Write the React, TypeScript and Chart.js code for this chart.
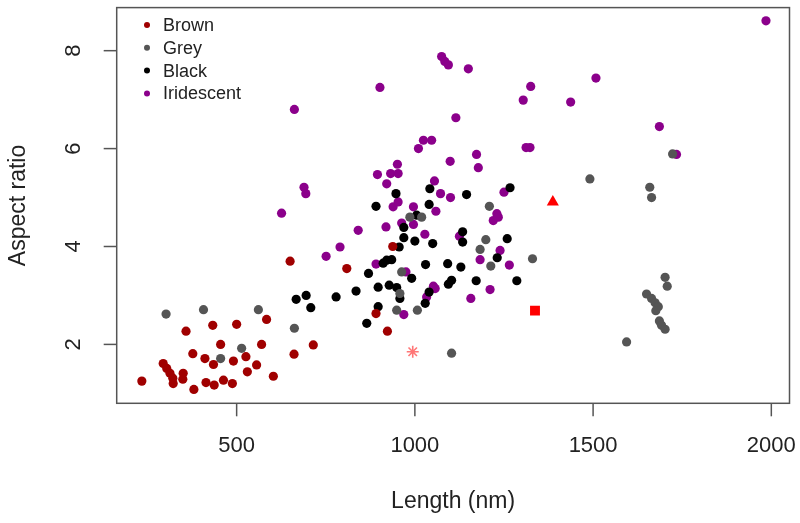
import React, { useEffect, useRef } from "react";
import { Chart, registerables } from "chart.js";

Chart.register(...registerables);

const seriesNames = ["Brown", "Grey", "Black", "Iridescent"];
const seriesColors = ["#a00000", "#555555", "#000000", "#8b008b"];

const brownX = [650, 358, 433, 500, 584, 455, 377, 411, 435, 491, 526, 556, 570, 530, 603, 661, 715, 294, 304, 313, 321, 322, 350, 349, 234, 380, 414, 437, 463, 488, 891, 938, 809, 923];
const brownY = [3.70, 2.27, 2.39, 2.41, 2.51, 2.00, 1.81, 1.71, 1.59, 1.66, 1.75, 1.58, 2.00, 1.44, 1.35, 1.80, 1.99, 1.61, 1.51, 1.41, 1.31, 1.20, 1.41, 1.29, 1.25, 1.08, 1.22, 1.17, 1.27, 1.20, 2.63, 4.00, 3.55, 2.27];

const greyX = [302, 407, 561, 662, 514, 455, 986, 1019, 963, 958, 949, 1007, 1103, 1209, 1199, 1183, 1213, 1330, 1491, 1659, 1664, 1723, 1702, 1708, 1650, 1664, 1674, 1683, 1676, 1686, 1692, 1702, 1594];
const greyY = [2.62, 2.71, 2.71, 2.33, 1.92, 1.71, 4.60, 4.60, 3.48, 3.04, 2.70, 2.70, 1.82, 4.82, 4.14, 3.94, 3.60, 3.75, 5.38, 5.21, 5.00, 5.89, 3.37, 3.19, 3.03, 2.94, 2.85, 2.77, 2.69, 2.48, 2.39, 2.31, 2.05];

const blackX = [667, 695, 708, 947, 1042, 1145, 891, 1040, 1267, 1005, 969, 1134, 969, 1000, 1050, 1134, 956, 1259, 1231, 921, 935, 911, 1030, 1092, 1129, 870, 991, 928, 949, 897, 958, 1103, 1094, 1172, 1286, 835, 779, 897, 1029, 1040, 865];
const blackY = [2.92, 3.00, 2.75, 5.08, 5.18, 5.06, 4.82, 4.86, 5.20, 4.64, 4.39, 4.30, 4.18, 4.11, 4.06, 4.09, 3.99, 4.16, 3.77, 3.72, 3.73, 3.66, 3.63, 3.65, 3.58, 3.45, 3.35, 3.21, 3.16, 3.17, 2.94, 3.31, 3.23, 3.30, 3.30, 3.09, 2.97, 2.77, 2.84, 3.07, 2.43];

const iridX = [951, 895, 932, 953, 921, 1099, 1173, 1178, 1055, 1072, 1100, 1059, 996, 939, 953, 963, 996, 919, 841, 790, 751, 1028, 1125, 1250, 1230, 1220, 1234, 1239, 1183, 1265, 975, 891, 1052, 1057, 1033, 1157, 1211, 969, 689, 694, 1075, 1084, 1094, 1150, 1508, 1325, 1304, 1437, 1115, 1686, 1010, 1024, 1047, 1312, 1323, 1734, 902, 662, 626, 1985];
const iridY = [5.68, 5.47, 5.49, 5.49, 5.28, 5.74, 5.88, 5.61, 5.34, 5.08, 5.00, 4.72, 4.81, 4.81, 4.91, 4.48, 4.45, 4.40, 4.33, 3.99, 3.80, 4.25, 4.21, 5.11, 4.67, 4.53, 4.60, 3.92, 3.73, 3.62, 3.48, 3.64, 3.19, 3.14, 2.97, 2.94, 3.12, 2.61, 5.21, 5.08, 7.88, 7.78, 7.71, 7.63, 7.44, 7.27, 6.99, 6.95, 6.63, 6.45, 6.00, 6.17, 6.17, 6.02, 6.02, 5.88, 7.25, 6.80, 4.68, 8.61];

const triangleX = [1387];
const triangleY = [4.91];
const squareX = [1337];
const squareY = [2.69];
const starX = [994];
const starY = [1.85];

const xTicks = [500, 1000, 1500, 2000];
const yTicks = [2, 4, 6, 8];
const xTitle = "Length (nm)";
const yTitle = "Aspect ratio";

const pts = (xs: number[], ys: number[]) => xs.map((x, i) => ({ x, y: ys[i] }));

const FONT = '"Liberation Sans", Arial, Helvetica, sans-serif';

const rAxesPlugin = {
  id: "rAxes",
  afterDraw(chart: any) {
    const ctx = chart.ctx;
    const { left, right, top, bottom } = chart.chartArea;
    const xs = chart.scales.x;
    const ys = chart.scales.y;
    ctx.save();
    ctx.strokeStyle = "#555";
    ctx.lineWidth = 1.5;
    ctx.strokeRect(left, top, right - left, bottom - top);
    ctx.fillStyle = "#222";
    ctx.font = `22px ${FONT}`;
    ctx.textAlign = "center";
    ctx.textBaseline = "middle";
    xTicks.forEach((t) => {
      const px = xs.getPixelForValue(t);
      ctx.beginPath();
      ctx.moveTo(px, bottom);
      ctx.lineTo(px, bottom + 13);
      ctx.stroke();
      ctx.fillText(String(t), px, 446);
    });
    yTicks.forEach((t) => {
      const py = ys.getPixelForValue(t);
      ctx.beginPath();
      ctx.moveTo(left, py);
      ctx.lineTo(left - 13, py);
      ctx.stroke();
      ctx.save();
      ctx.translate(74, py);
      ctx.rotate(-Math.PI / 2);
      ctx.fillText(String(t), 0, 0);
      ctx.restore();
    });
    ctx.font = `23px ${FONT}`;
    ctx.fillText(xTitle, (left + right) / 2, 502);
    ctx.save();
    ctx.translate(19, (top + bottom) / 2);
    ctx.rotate(-Math.PI / 2);
    ctx.fillText(yTitle, 0, 0);
    ctx.restore();
    ctx.font = `18px ${FONT}`;
    ctx.textAlign = "left";
    seriesNames.forEach((name, i) => {
      const y = 25 + i * 22.8;
      ctx.fillStyle = seriesColors[i];
      ctx.beginPath();
      ctx.arc(147, y, 3, 0, Math.PI * 2);
      ctx.fill();
      ctx.fillStyle = "#222";
      ctx.fillText(name, 163, y + 1);
    });
    ctx.restore();
  },
};

export default function App() {
  const ref = useRef<HTMLCanvasElement | null>(null);
  useEffect(() => {
    if (!ref.current) return;
    const dot = (label: string, xs: number[], ys: number[], color: string) => ({
      label,
      data: pts(xs, ys),
      backgroundColor: color,
      borderColor: color,
      borderWidth: 0,
      pointRadius: 4.6,
      pointStyle: "circle",
    });
    const chart = new Chart(ref.current, {
      type: "scatter",
      data: {
        datasets: [
          dot(seriesNames[0], brownX, brownY, seriesColors[0]),
          dot(seriesNames[1], greyX, greyY, seriesColors[1]),
          dot(seriesNames[2], blackX, blackY, seriesColors[2]),
          dot(seriesNames[3], iridX, iridY, seriesColors[3]),
          {
            label: "triangle",
            data: pts(triangleX, triangleY),
            backgroundColor: "#ff0000",
            borderColor: "#ff0000",
            borderWidth: 0,
            pointRadius: 7,
            pointStyle: "triangle",
          },
          {
            label: "square",
            data: pts(squareX, squareY),
            backgroundColor: "#ff0000",
            borderColor: "#ff0000",
            borderWidth: 0,
            pointRadius: 7,
            pointStyle: "rect",
          },
          {
            label: "star",
            data: pts(starX, starY),
            backgroundColor: "#ff7777",
            borderColor: "#ff7777",
            borderWidth: 1.6,
            pointRadius: 6,
            pointStyle: "star",
          },
        ],
      },
      options: {
        responsive: false,
        animation: false,
        devicePixelRatio: 1,
        layout: { padding: { left: 116.7, top: 7, right: 10.5, bottom: 119.7 } },
        plugins: { legend: { display: false }, tooltip: { enabled: false } },
        scales: {
          x: { type: "linear", min: 163.5, max: 2051, display: false },
          y: { type: "linear", min: 0.797, max: 8.88, display: false },
        },
      },
      plugins: [rAxesPlugin],
    });
    return () => chart.destroy();
  }, []);
  return (
    <div style={{ position: "absolute", left: 0, top: 0, width: 800, height: 523, background: "#fff" }}>
      <canvas ref={ref} width={800} height={523} style={{ display: "block" }} />
    </div>
  );
}
